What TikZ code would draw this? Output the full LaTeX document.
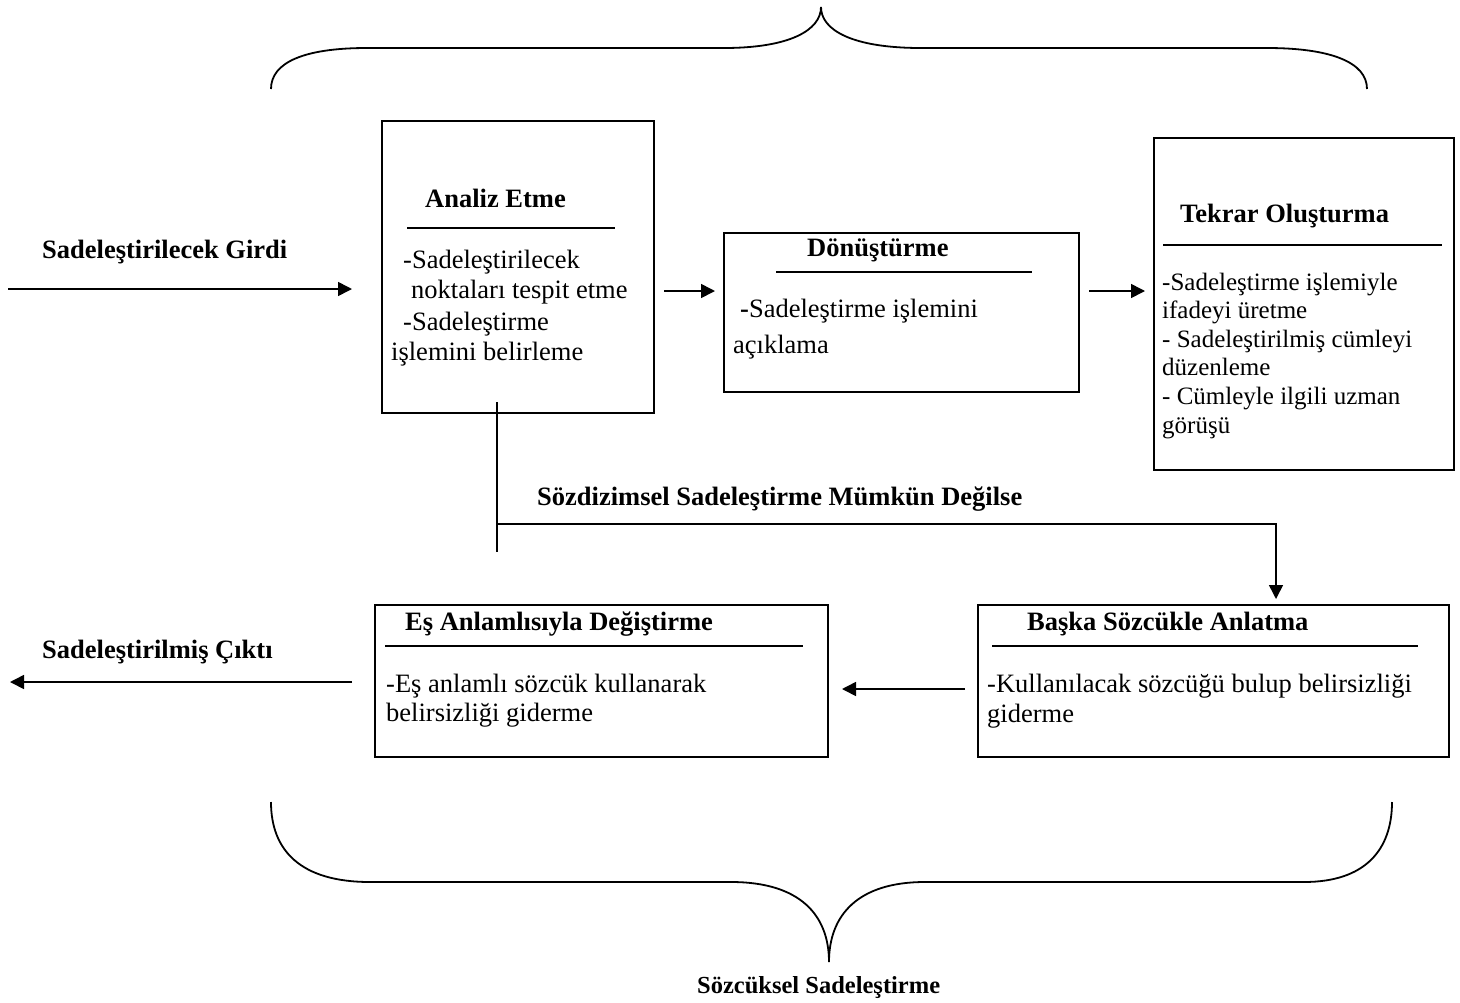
\documentclass[tikz,border=0pt]{standalone}
\usepackage{fontspec}
\setmainfont{Liberation Serif}
\usetikzlibrary{arrows.meta}
\begin{document}
\begin{tikzpicture}[x=1pt,y=-1pt,
  box/.style={draw, line width=2pt, inner sep=0pt},
  ttl/.style={anchor=base west, inner sep=0pt, font=\fontsize{26.5}{30}\selectfont\bfseries},
  txt/.style={anchor=base west, inner sep=0pt, font=\fontsize{26.5}{30}\selectfont},
  txts/.style={anchor=base west, inner sep=0pt, font=\fontsize{25}{29}\selectfont},
  rule/.style={line width=1.6pt},
  conn/.style={line width=1.6pt},
  arr/.style={line width=1.6pt, -{Triangle[length=14pt,width=14pt]}},
  brace/.style={line width=1.8pt}]
\useasboundingbox (0,0) rectangle (1460,1002);

% boxes
\node[box, anchor=north west, minimum width=272pt, minimum height=292pt] (analiz) at (381,120) {};
\node[box, anchor=north west, minimum width=355pt, minimum height=159pt] (don) at (723,232) {};
\node[box, anchor=north west, minimum width=300pt, minimum height=332pt] (tekrar) at (1153,137) {};
\node[box, anchor=north west, minimum width=453pt, minimum height=152pt] (es) at (374,604) {};
\node[box, anchor=north west, minimum width=471pt, minimum height=152pt] (baska) at (977,604) {};

% Analiz Etme
\node[ttl] (at) at (425,207) {Analiz Etme};
\draw[rule] (407,228) -- (615,228);
\node[txt] (a1) at (403,268) {-Sadeleştirilecek};
\node[txt] (a2) at (411,298) {noktaları tespit etme};
\node[txt] (a3) at (403,330) {-Sadeleştirme};
\node[txt] (a4) at (391,360) {işlemini belirleme};

% Donusturme
\node[ttl] (dt) at (807,256) {Dönüştürme};
\draw[rule] (776,272) -- (1032,272);
\node[txt] (d1) at (740,317) {{\bfseries -}Sadeleştirme işlemini};
\node[txt] (d2) at (733,353) {açıklama};

% Tekrar Olusturma
\node[ttl] (tt) at (1180,222) {Tekrar Oluşturma};
\draw[rule] (1163,245) -- (1442,245);
\node[txts] (t1) at (1162,290) {-Sadeleştirme işlemiyle};
\node[txts] (t2) at (1162,318.6) {ifadeyi üretme};
\node[txts] (t3) at (1162,347.2) {- Sadeleştirilmiş cümleyi};
\node[txts] (t4) at (1162,375.8) {düzenleme};
\node[txts] (t5) at (1162,404.4) {- Cümleyle ilgili uzman};
\node[txts] (t6) at (1162,433) {görüşü};

% Es Anlamlisiyla
\node[ttl] (et) at (405,630) {Eş Anlamlısıyla Değiştirme};
\draw[rule] (385,646) -- (803,646);
\node[txt] (e1) at (386,692) {-Eş anlamlı sözcük kullanarak};
\node[txt] (e2) at (386,721) {belirsizliği giderme};

% Baska Sozcukle
\node[ttl] (bt) at (1027,630) {Başka Sözcükle Anlatma};
\draw[rule] (992,646) -- (1418,646);
\node[txt] (b1) at (987,692) {-Kullanılacak sözcüğü bulup belirsizliği};
\node[txt] (b2) at (987,722) {giderme};

% free labels
\node[ttl] (in) at (42,258) {Sadeleştirilecek Girdi};
\node[ttl] (out) at (42,658) {Sadeleştirilmiş Çıktı};
\node[ttl] (cond) at (537,505) {Sözdizimsel Sadeleştirme Mümkün Değilse};
\node[ttl, font=\fontsize{24.5}{28}\selectfont\bfseries] (lex) at (697,993) {Sözcüksel Sadeleştirme};

% coordinates
\coordinate (inStart) at (8,289);
\coordinate (outEnd) at (10,682);
\coordinate (r291) at (0,291);
\coordinate (r289) at (0,289);
\coordinate (r689) at (0,689);
\coordinate (r682) at (0,682);
\coordinate (branchTop) at (497,402);
\coordinate (branchEnd) at (497,552);
\coordinate (joint) at (497,524);
\coordinate (turn) at (1276,524);

% connectors
\draw[arr, shorten >=29pt] (inStart) -- (analiz.west |- r289);
\draw[arr, shorten <=9pt, shorten >=8pt] (analiz.east |- r291) -- (don.west |- r291);
\draw[arr, shorten <=9pt, shorten >=8pt] (don.east |- r291) -- (tekrar.west |- r291);
\draw[conn] (branchTop) -- (branchEnd);
\draw[arr, shorten >=5pt] (joint) -- (turn) -- (turn |- baska.north);
\draw[arr, shorten <=12pt, shorten >=13pt] (baska.west |- r689) -- (es.east |- r689);
\draw[arr, shorten <=22pt] (es.west |- r682) -- (outEnd);

% braces
\draw[brace] (271,89) .. controls (271,62) and (305,48) .. (367,48)
  -- (724,48) .. controls (790,48) and (821,30) .. (821,7)
  .. controls (821,30) and (852,48) .. (921,48)
  -- (1267,48) .. controls (1330,48) and (1367,62) .. (1367,89);
\draw[brace] (271,802) .. controls (271,850) and (300,882) .. (370,882)
  -- (731,882) .. controls (800,882) and (829,915) .. (829,962)
  .. controls (829,915) and (858,882) .. (925,882)
  -- (1304,882) .. controls (1365,882) and (1392,850) .. (1392,802);
\end{tikzpicture}
\end{document}
